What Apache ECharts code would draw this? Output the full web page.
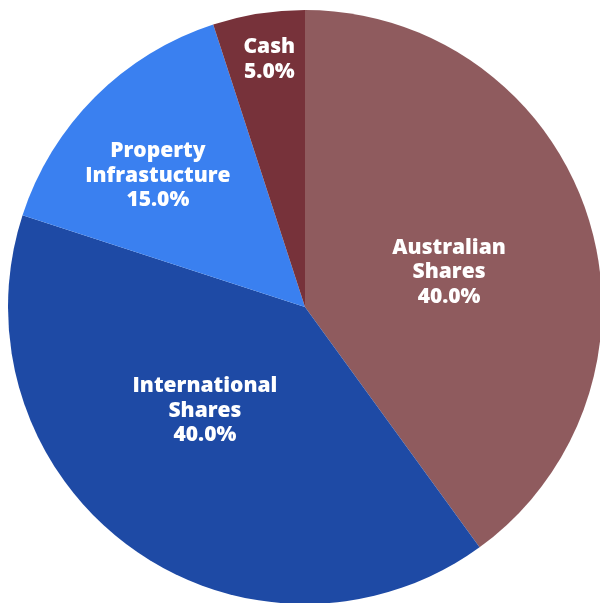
<!DOCTYPE html>
<html><head><meta charset="utf-8">
<script src="https://cdn.jsdelivr.net/npm/echarts@6/dist/echarts.min.js"></script>
<style>html,body{margin:0;padding:0;background:#fff}#c{width:600px;height:603px}</style>
</head><body><div id="c"></div>
<script>
const categories = ['Australian\nShares', 'International\nShares', 'Property\nInfrastucture', 'Cash'];
const values = [40, 40, 15, 5];
const colors = ['#8f5b5e', '#1e4aa5', '#3a80f0', '#77323a'];
const labelOffsets = [[0, 12], [-11, -19], [-40, -24], [-12, -98]];

const chart = echarts.init(document.getElementById('c'));
chart.setOption({
  animation: false,
  series: [{
    type: 'pie',
    center: [305, 307],
    radius: [0, 297],
    startAngle: 90,
    clockwise: true,
    itemStyle: { borderWidth: 0 },
    label: {
      show: true,
      position: 'inside',
      color: '#fff',
      fontFamily: 'Open Sans',
      fontWeight: 800,
      fontSize: 21,
      lineHeight: 24.5,
      align: 'center',
      formatter: p => p.name + '\n' + p.value.toFixed(1) + '%'
    },
    labelLine: { show: false },
    emphasis: { disabled: true },
    data: categories.map((n, i) => ({
      name: n, value: values[i],
      itemStyle: { color: colors[i] },
      label: { offset: labelOffsets[i] }
    }))
  }]
});
</script></body></html>
